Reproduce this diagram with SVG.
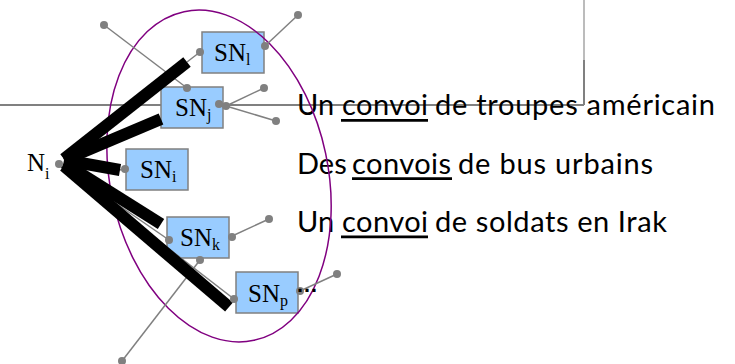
<svg xmlns="http://www.w3.org/2000/svg" width="735" height="364" viewBox="0 0 735 364">
<style>
.box{fill:#99CCFF;stroke:#808080;stroke-width:1.5}
.lbl{font-family:"Liberation Serif","Times New Roman",serif;font-size:25px;fill:#000}
.sub{font-size:16px}
.thin{stroke:#808080;stroke-width:1.5;fill:none}
.thick{stroke:#000;stroke-width:12;fill:none;stroke-linecap:butt}
.dot{fill:#808080}
.sent{font-family:Lato,"Open Sans",sans-serif;font-size:29px;fill:#000}
.ul{stroke:#000;stroke-width:2.7}
</style>
<rect width="735" height="364" fill="#fff"/>
<g id="frame-lines">
<line x1="0" y1="105" x2="584" y2="105" stroke="#808080" stroke-width="2"/>
<line x1="584" y1="0" x2="584" y2="60" stroke="#a6a6a6" stroke-width="1.5"/>
<line x1="584" y1="60" x2="584" y2="105" stroke="#808080" stroke-width="2"/>
</g>
<g id="sentences">
<text class="sent" x="297" y="115">Un</text>
<text class="sent" x="342" y="115" textLength="86">convoi</text>
<text class="sent" x="435" y="115" textLength="280">de troupes américain</text>
<line class="ul" x1="341" y1="120.3" x2="428" y2="120.3"/>
<text class="sent" x="297" y="174">Des</text>
<text class="sent" x="352" y="174" textLength="99">convois</text>
<text class="sent" x="458" y="174" textLength="195">de bus urbains</text>
<line class="ul" x1="352" y1="178.7" x2="452" y2="178.7"/>
<text class="sent" x="297" y="232">Un</text>
<text class="sent" x="342" y="232" textLength="86">convoi</text>
<text class="sent" x="435" y="232" textLength="232">de soldats en Irak</text>
<line class="ul" x1="341" y1="236.8" x2="428" y2="236.8"/>
</g>
<g id="node-SN1"><rect class="box" x="202" y="32" width="62" height="41"/><text class="lbl" x="214" y="61">SN<tspan class="sub" dy="4">l</tspan></text></g>
<g id="node-SNj"><rect class="box" x="161" y="87" width="62" height="41"/><text class="lbl" x="175" y="116">SN<tspan class="sub" dy="4">j</tspan></text></g>
<g id="node-SNi"><rect class="box" x="126" y="149" width="62" height="41"/><text class="lbl" x="140" y="178">SN<tspan class="sub" dy="4">i</tspan></text></g>
<g id="node-SNk"><rect class="box" x="167" y="217" width="62" height="41"/><text class="lbl" x="180" y="246">SN<tspan class="sub" dy="4">k</tspan></text></g>
<g id="node-SNp"><rect class="box" x="236" y="272" width="62" height="41"/><text class="lbl" x="248" y="302">SN<tspan class="sub" dy="4">p</tspan></text></g>
<g id="cluster"><ellipse cx="219" cy="176" rx="109" ry="168" transform="rotate(-12 219 176)" fill="none" stroke="#800080" stroke-width="1.5"/></g>
<g id="node-Ni"><text class="lbl" x="27" y="171">N<tspan class="sub" dy="8">i</tspan></text></g>
<g id="connectors">
<line class="thin" x1="104" y1="25" x2="187" y2="88"/>
<line class="thin" x1="265" y1="46" x2="298" y2="15"/>
<line class="thin" x1="187" y1="62" x2="200" y2="52"/>
<line class="thin" x1="219" y1="104" x2="226" y2="106"/>
<line class="thin" x1="226" y1="106" x2="264" y2="88"/>
<line class="thin" x1="226" y1="106" x2="276" y2="121"/>
<line class="thin" x1="120" y1="170" x2="125" y2="169"/>
<line class="thin" x1="59" y1="164" x2="169" y2="240"/>
<line class="thin" x1="59" y1="164" x2="234" y2="299"/>
<line class="thin" x1="230" y1="237" x2="269" y2="219"/>
<line class="thin" x1="200" y1="260" x2="122" y2="361"/>
<line class="thin" x1="300" y1="291" x2="337" y2="274"/>
<line class="thick" x1="64" y1="159" x2="187" y2="62"/>
<line class="thick" x1="64" y1="160" x2="161" y2="119"/>
<line class="thick" x1="64" y1="160" x2="120" y2="170"/>
<line class="thick" x1="64" y1="163" x2="161" y2="224"/>
<line class="thick" x1="64" y1="166" x2="229" y2="307"/>
</g>
<g id="ports">
<circle class="dot" cx="59" cy="164" r="4"/>
<circle class="dot" cx="104" cy="25" r="4"/>
<circle class="dot" cx="187" cy="88" r="4"/>
<circle class="dot" cx="200" cy="52" r="4"/>
<circle class="dot" cx="265" cy="46" r="4"/>
<circle class="dot" cx="298" cy="15" r="4"/>
<circle class="dot" cx="219" cy="104" r="4"/>
<circle class="dot" cx="226" cy="106" r="4"/>
<circle class="dot" cx="264" cy="88" r="4"/>
<circle class="dot" cx="276" cy="121" r="4"/>
<circle class="dot" cx="125" cy="169" r="4"/>
<circle class="dot" cx="169" cy="240" r="4"/>
<circle class="dot" cx="232" cy="237" r="4"/>
<circle class="dot" cx="269" cy="219" r="4"/>
<circle class="dot" cx="200" cy="260" r="4"/>
<circle class="dot" cx="122" cy="361" r="4"/>
<circle class="dot" cx="234" cy="299" r="4"/>
<circle class="dot" cx="300" cy="291" r="4"/>
<circle class="dot" cx="337" cy="274" r="4"/>
</g>
<text x="296" y="292" font-family="'Liberation Sans',sans-serif" font-weight="bold" font-size="22" fill="#000">…</text>
</svg>
